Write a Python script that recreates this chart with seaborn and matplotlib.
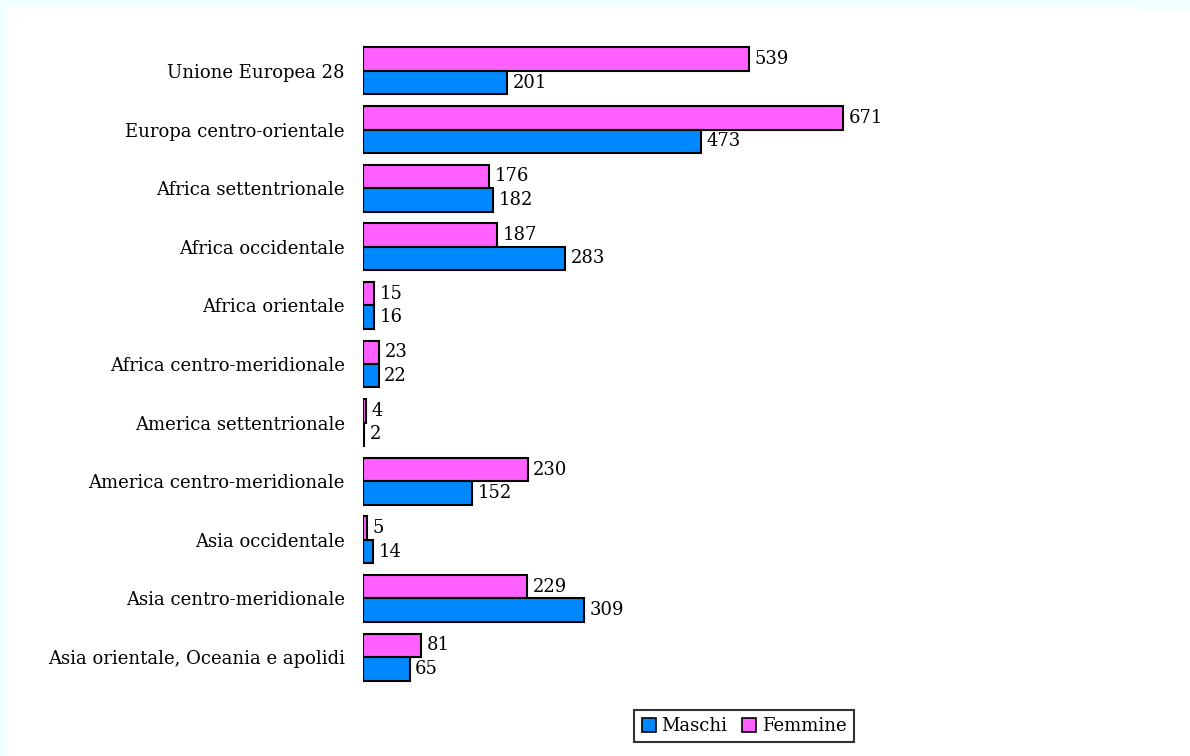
import matplotlib
matplotlib.use("Agg")
import matplotlib.pyplot as plt
import matplotlib.patches as mpatches
import seaborn as sns
import pandas as pd

categories = [
    "Unione Europea 28",
    "Europa centro-orientale",
    "Africa settentrionale",
    "Africa occidentale",
    "Africa orientale",
    "Africa centro-meridionale",
    "America settentrionale",
    "America centro-meridionale",
    "Asia occidentale",
    "Asia centro-meridionale",
    "Asia orientale, Oceania e apolidi",
]
maschi = [201, 473, 182, 283, 16, 22, 2, 152, 14, 309, 65]
femmine = [539, 671, 176, 187, 15, 23, 4, 230, 5, 229, 81]
series_names = ["Maschi", "Femmine"]

col_m = "#0088FF"
col_f = "#FF60FF"

df = pd.DataFrame({
    "area": categories * 2,
    "valore": femmine + maschi,
    "sesso": ["Femmine"] * len(categories) + ["Maschi"] * len(categories),
})

sns.set_theme(style="white")
plt.rcParams["font.family"] = ["DejaVu Serif"]
plt.rcParams["text.color"] = "black"
plt.rcParams["ytick.color"] = "black"
plt.rcParams["ytick.labelcolor"] = "black"

fig = plt.figure(figsize=(11.9, 7.56), dpi=100)
fig.patch.set_facecolor("#F0FFFF")
fig.add_artist(mpatches.Rectangle((8 / 1190, 0), 1 - 8 / 1190, 1 - 8 / 756,
                                  transform=fig.transFigure, facecolor="white",
                                  edgecolor="none", zorder=0))
fig.add_artist(mpatches.Rectangle((1141 / 1190, 1 - 10 / 756), 49 / 1190, 10 / 756,
                                  transform=fig.transFigure, facecolor="#F0FFFF",
                                  edgecolor="none", zorder=0))

ax = fig.add_axes([363 / 1190, 1 - 704 / 756, 762 / 1190, 680 / 756])
ax.patch.set_alpha(0)

sns.barplot(data=df, y="area", x="valore", hue="sesso", order=categories,
            hue_order=["Femmine", "Maschi"],
            palette={"Femmine": col_f, "Maschi": col_m}, saturation=1,
            width=0.8, edgecolor="black", linewidth=1.5, legend=False, ax=ax)

for cont in ax.containers:
    ax.bar_label(cont, labels=[f"{int(v)}" for v in cont.datavalues],
                 padding=4, fontsize=13, color="black")

ax.set_xlim(0, 1065)
ax.set_ylim(10.8, -0.8)
ax.set_xlabel("")
ax.set_ylabel("")
ax.set_xticks([])
ax.tick_params(axis="y", length=0, pad=13, labelsize=13, labelcolor="black")
for s in ax.spines.values():
    s.set_visible(False)

handles = [mpatches.Patch(facecolor=col_m, edgecolor="black", linewidth=1.2, label=series_names[0]),
           mpatches.Patch(facecolor=col_f, edgecolor="black", linewidth=1.2, label=series_names[1])]
leg = fig.legend(handles=handles, loc="center", bbox_to_anchor=(744 / 1190, 1 - 726 / 756),
                 ncol=2, frameon=True, fancybox=False, fontsize=13, labelcolor="black",
                 handlelength=0.8, handleheight=0.8, handletextpad=0.3,
                 columnspacing=0.8, borderpad=0.4)
leg.get_frame().set_edgecolor("black")
leg.get_frame().set_linewidth(1.5)

fig.savefig("out.png", dpi=100, facecolor=fig.get_facecolor())
